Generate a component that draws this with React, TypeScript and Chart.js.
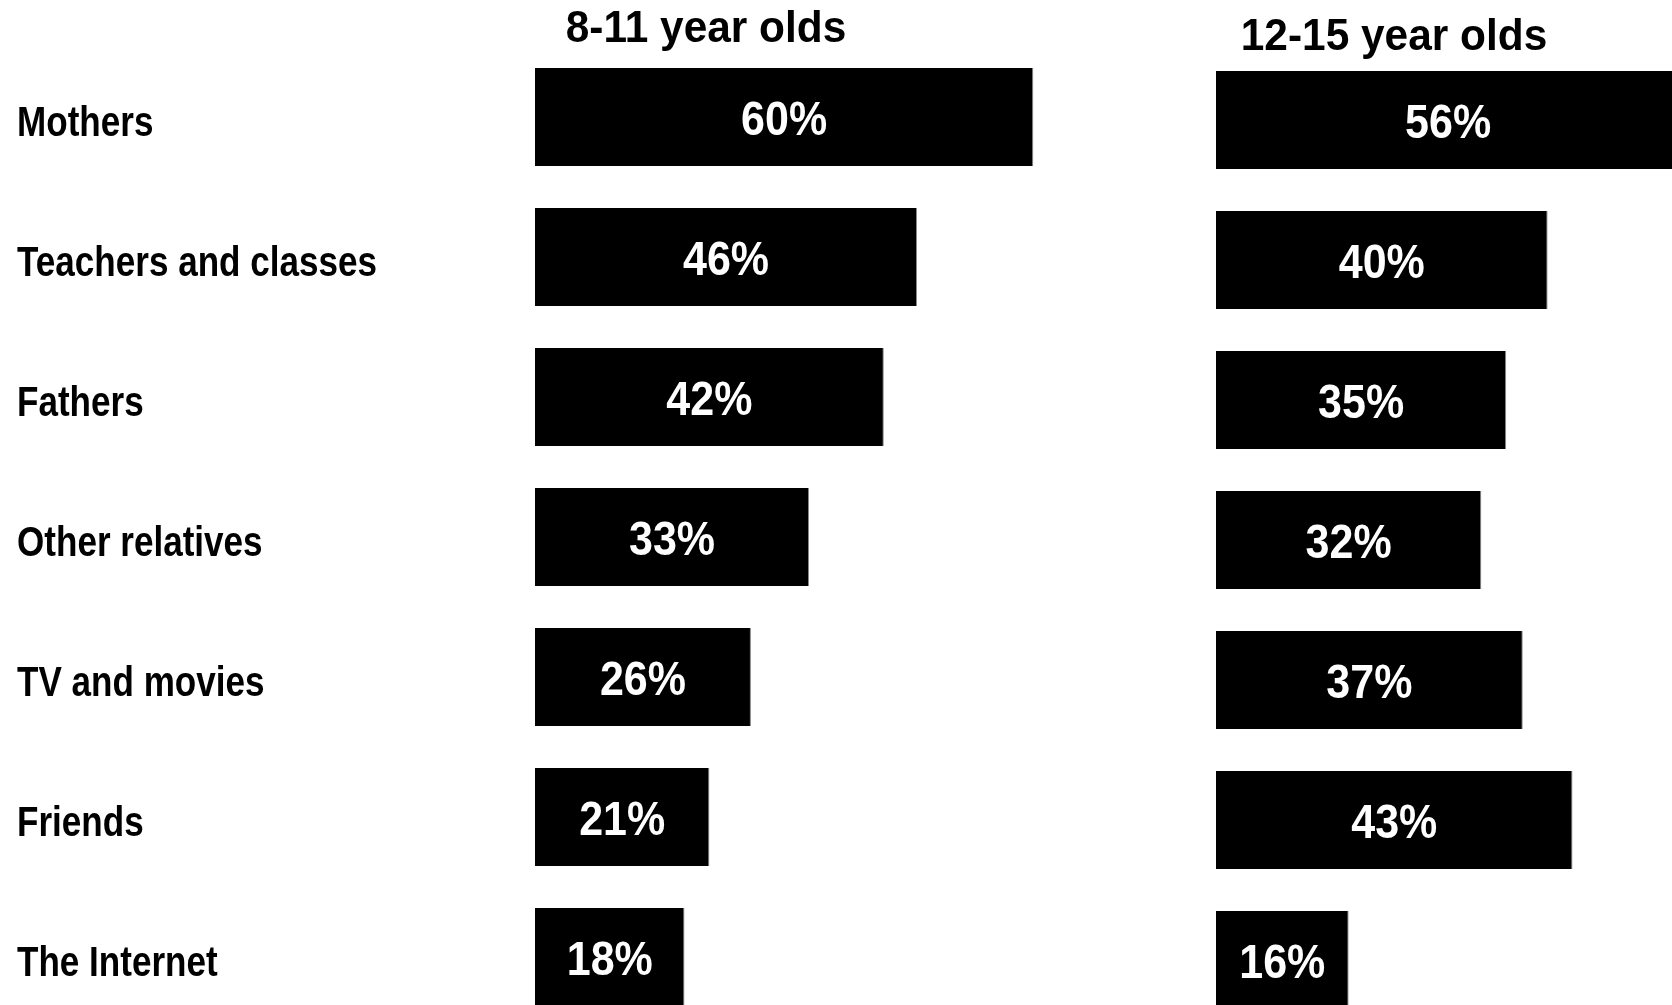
import React, { useEffect, useRef } from "react";
import { Chart, registerables } from "chart.js";

Chart.register(...registerables);

const categories = [
  "Mothers",
  "Teachers and classes",
  "Fathers",
  "Other relatives",
  "TV and movies",
  "Friends",
  "The Internet",
];
const ages8to11 = [60, 46, 42, 33, 26, 21, 18];
const ages12to15 = [56, 40, 35, 32, 37, 43, 16];
const titleLeft = "8-11 year olds";
const titleRight = "12-15 year olds";

const SANS = "'Liberation Sans', Arial, sans-serif";

// Category labels drawn at the y-axis tick positions, horizontally condensed (Arial Narrow look)
const categoryLabels = {
  id: "categoryLabels",
  afterDraw(chart: any, _args: any, opts: any) {
    if (!opts.show) return;
    const ctx = chart.ctx;
    const yScale = chart.scales.y;
    ctx.save();
    ctx.fillStyle = "#000000";
    ctx.font = `bold 42px ${SANS}`;
    ctx.textAlign = "left";
    ctx.textBaseline = "alphabetic";
    yScale.ticks.forEach((_t: any, i: number) => {
      const y = yScale.getPixelForTick(i);
      const label = yScale.getLabelForValue(i);
      ctx.save();
      ctx.translate(yScale.left, y + 19);
      ctx.scale(0.835, 1.02);
      ctx.fillText(label, 0, 0);
      ctx.restore();
    });
    ctx.restore();
  },
};

const valueLabels = {
  id: "valueLabels",
  afterDatasetsDraw(chart: any) {
    const ctx = chart.ctx;
    const meta = chart.getDatasetMeta(0);
    const data = chart.data.datasets[0].data;
    ctx.save();
    ctx.fillStyle = "#ffffff";
    ctx.font = `bold 43px ${SANS}`;
    ctx.textAlign = "center";
    ctx.textBaseline = "alphabetic";
    meta.data.forEach((bar: any, i: number) => {
      const cx = (bar.x + bar.base) / 2;
      ctx.save();
      ctx.translate(cx, bar.y + 18);
      ctx.scale(1, 1.12);
      ctx.fillText(`${data[i]}%`, 0, 0);
      ctx.restore();
    });
    ctx.restore();
  },
};

const panelTitle = {
  id: "panelTitle",
  afterDraw(chart: any, _args: any, opts: any) {
    const ctx = chart.ctx;
    ctx.save();
    ctx.fillStyle = "#000000";
    ctx.font = `bold 42px ${SANS}`;
    ctx.textAlign = "center";
    ctx.textBaseline = "alphabetic";
    ctx.translate(chart.chartArea.left + opts.dx, opts.baseline);
    ctx.scale(1.01, 1.04);
    ctx.fillText(opts.text, 0, 0);
    ctx.restore();
  },
};

function makeConfig(values: number[], showLabels: boolean, max: number, title: string, titleDx: number, titleBaseline: number, padTop: number, padLeft: number): any {
  return {
    type: "bar",
    data: {
      labels: categories,
      datasets: [
        {
          data: values,
          backgroundColor: "#000000",
          borderColor: "#8a8a8a",
          borderWidth: { top: 0, left: 0, bottom: 0, right: 1 },
          borderSkipped: false,
          categoryPercentage: 1,
          barPercentage: 0.7,
        },
      ],
    },
    options: {
      indexAxis: "y",
      responsive: false,
      maintainAspectRatio: false,
      animation: false,
      layout: { padding: { top: padTop, bottom: 1040 - padTop - 980, left: padLeft, right: 0 } },
      plugins: {
        legend: { display: false },
        tooltip: { enabled: false },
        title: { display: false },
        panelTitle: { text: title, dx: titleDx, baseline: titleBaseline },
        categoryLabels: { show: showLabels },
      },
      scales: {
        x: { display: false, min: 0, max: max },
        y: {
          display: showLabels,
          grid: { display: false },
          border: { display: false },
          ticks: { display: false },
          afterFit: (scale: any) => {
            if (showLabels) scale.width = 535 - padLeft;
          },
        },
      },
    },
    plugins: [valueLabels, panelTitle, categoryLabels],
  };
}

export default function App() {
  const leftRef = useRef<HTMLCanvasElement | null>(null);
  const rightRef = useRef<HTMLCanvasElement | null>(null);

  useEffect(() => {
    document.body.style.margin = "0";
    const left = new Chart(leftRef.current as HTMLCanvasElement, makeConfig(ages8to11, true, 82, titleLeft, 171, 42, 47, 17));
    const right = new Chart(rightRef.current as HTMLCanvasElement, makeConfig(ages12to15, false, 55, titleRight, 178, 50, 50, 0));
    return () => {
      left.destroy();
      right.destroy();
    };
  }, []);

  return (
    <div style={{ position: "absolute", left: 0, top: 0, width: 1672, height: 1005, overflow: "hidden", background: "#ffffff" }}>
      <canvas ref={leftRef} width={1216} height={1040} style={{ position: "absolute", left: 0, top: 0 }} />
      <canvas ref={rightRef} width={456} height={1040} style={{ position: "absolute", left: 1216, top: 0 }} />
    </div>
  );
}
